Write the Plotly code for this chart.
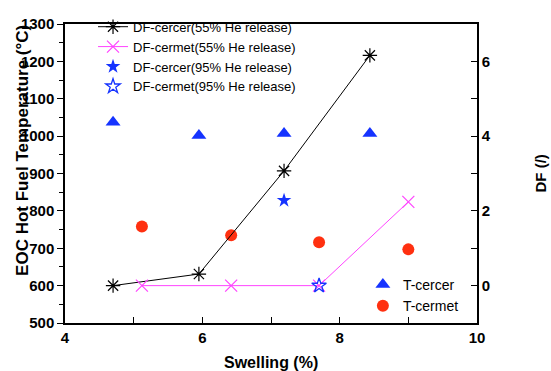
import plotly.graph_objects as go

# ---- data ----
swell_cercer = [4.70, 5.95, 7.19, 8.44]
df_cercer55 = [0.0, 0.31, 3.07, 6.16]
swell_cermet = [5.12, 6.42, 7.70, 9.00]
df_cermet55 = [0.0, 0.0, 0.0, 2.24]
swell_cercer95 = [7.19]
df_cercer95 = [2.28]
swell_cermet95 = [7.70]
df_cermet95 = [0.0]
t_cercer = [1037, 1002, 1007, 1007]
t_cermet = [758, 735, 716, 697]

BLUE = "#1533ff"
RED = "#ff3010"
MAG = "#ff44ff"
FONT = "Liberation Sans, Arial, sans-serif"

fig = go.Figure()

fig.add_trace(go.Scatter(x=swell_cercer, y=t_cercer, mode="markers", name="T-cercer",
                         marker=dict(symbol="triangle-up", size=13, color=BLUE),
                         legend="legend2", yaxis="y"))
fig.add_trace(go.Scatter(x=swell_cermet, y=t_cermet, mode="markers", name="T-cermet",
                         marker=dict(symbol="circle", size=12, color=RED),
                         legend="legend2", yaxis="y"))

fig.add_trace(go.Scatter(x=swell_cercer, y=df_cercer55, mode="lines+markers",
                         name="DF-cercer(55% He release)",
                         line=dict(color="black", width=1),
                         marker=dict(symbol="asterisk-open", size=12,
                                     line=dict(color="black", width=1.2)),
                         legend="legend", yaxis="y2"))
fig.add_trace(go.Scatter(x=swell_cermet, y=df_cermet55, mode="lines+markers",
                         name="DF-cermet(55% He release)",
                         line=dict(color=MAG, width=1),
                         marker=dict(symbol="x-thin-open", size=12,
                                     line=dict(color=MAG, width=1.2)),
                         legend="legend", yaxis="y2"))
fig.add_trace(go.Scatter(x=swell_cercer95, y=df_cercer95, mode="markers",
                         name="DF-cercer(95% He release)",
                         marker=dict(symbol="star", size=11, color=BLUE,
                                     line=dict(width=0)),
                         legend="legend", yaxis="y2"))
fig.add_trace(go.Scatter(x=swell_cermet95, y=df_cermet95, mode="markers",
                         name="DF-cermet(95% He release)",
                         marker=dict(symbol="star-open", size=11, color=BLUE,
                                     line=dict(color=BLUE, width=1.3)),
                         legend="legend", yaxis="y2"))

tickfont = dict(family=FONT, size=15, color="black", weight="bold")

fig.update_layout(
    width=551, height=371,
    margin=dict(l=65, r=74, t=19, b=48),
    plot_bgcolor="white", paper_bgcolor="white",
    font=dict(family=FONT, color="black"),
    xaxis=dict(range=[4, 10], dtick=2, tick0=4, ticks="inside", ticklen=6,
               tickwidth=1.2, tickcolor="black",
               minor=dict(dtick=1, ticks="inside", ticklen=6, tickcolor="black", tickwidth=1.2),
               showline=True, linecolor="black", linewidth=1.5, mirror=True,
               showgrid=False, zeroline=False, tickfont=tickfont),
    yaxis=dict(range=[500, 1300], dtick=100, tick0=500, ticks="outside", ticklen=6,
               tickwidth=1.2, tickcolor="black",
               minor=dict(dtick=50, ticks="outside", ticklen=4, tickcolor="black", tickwidth=1.2),
               showline=True, linecolor="black", linewidth=1.5,
               showgrid=False, zeroline=False, tickfont=tickfont),
    yaxis2=dict(range=[-1, 7], dtick=2, tick0=0, overlaying="y", side="right",
                ticks="inside", ticklen=6, tickwidth=1.2, tickcolor="black",
                minor=dict(dtick=1, ticks="inside", ticklen=6, tickcolor="black", tickwidth=1.2),
                showline=True, linecolor="black", linewidth=1.5,
                showgrid=False, zeroline=False, tickfont=tickfont),
    legend=dict(x=0.068, y=1.041, xanchor="left", yanchor="top",
                bgcolor="rgba(0,0,0,0)", font=dict(family=FONT, size=13),
                tracegroupgap=0, itemwidth=30),
    legend2=dict(x=0.723, y=0.181, xanchor="left", yanchor="top",
                 bgcolor="rgba(0,0,0,0)", font=dict(family=FONT, size=14),
                 tracegroupgap=0, itemwidth=30),
    annotations=[
        dict(text="EOC Hot Fuel Temperature (°C)", textangle=-90, xref="paper", yref="paper",
             x=(23 - 65) / 412, y=(323 - 148) / 304, xanchor="center", yanchor="middle",
             showarrow=False, font=dict(family=FONT, size=17, weight="bold")),
        dict(text="DF (/)", textangle=-90, xref="paper", yref="paper",
             x=(540 - 65) / 412, y=(323 - 171) / 304, xanchor="center", yanchor="middle",
             showarrow=False, font=dict(family=FONT, size=15, weight="bold")),
        dict(text="Swelling (%)", xref="paper", yref="paper",
             x=0.5, y=-(363 - 323) / 304, xanchor="center", yanchor="middle",
             showarrow=False, font=dict(family=FONT, size=16, weight="bold")),
    ],
)

fig.write_html("out.html")
